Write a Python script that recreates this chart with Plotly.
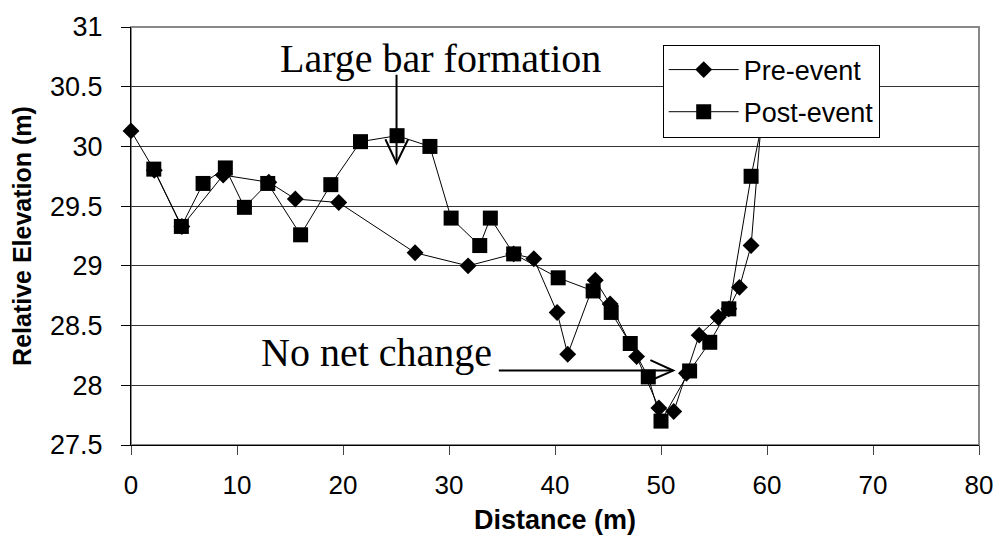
import plotly.graph_objects as go

# Pre-event survey (distance m, relative elevation m)
pre_x = [0.0, 2.2, 4.8, 8.7, 13.0, 15.5, 19.6, 26.8, 31.8, 36.1, 38.0, 40.2, 41.2,
         43.8, 45.2, 47.7, 49.8, 51.2, 52.4, 53.6, 55.4, 56.4, 57.4, 58.5, 59.4]
pre_y = [30.13, 29.80, 29.33, 29.76, 29.70, 29.56, 29.53, 29.11, 29.00, 29.10, 29.06, 28.61, 28.26,
         28.88, 28.68, 28.24, 27.81, 27.78, 28.10, 28.42, 28.57, 28.64, 28.82, 29.17, 30.14]

# Post-event survey
post_x = [2.15, 4.75, 6.8, 8.9, 10.7, 12.9, 16.0, 18.85, 21.65, 25.1, 28.2, 30.2, 32.9,
          33.9, 36.1, 40.3, 43.6, 45.3, 47.1, 48.8, 50.0, 52.7, 54.6, 56.4, 58.5, 59.4]
post_y = [29.81, 29.33, 29.69, 29.82, 29.49, 29.69, 29.26, 29.68, 30.04, 30.09, 30.00, 29.40, 29.17,
          29.40, 29.10, 28.90, 28.79, 28.61, 28.35, 28.07, 27.70, 28.12, 28.36, 28.64, 29.75, 30.14]

x_ticks = [0, 10, 20, 30, 40, 50, 60, 70, 80]
y_ticks = [27.5, 28, 28.5, 29, 29.5, 30, 30.5, 31]
y_tick_text = ["27.5", "28", "28.5", "29", "29.5", "30", "30.5", "31"]

SANS = "Liberation Sans, Arial, sans-serif"
SERIF = "Liberation Serif, Times New Roman, serif"

fig = go.Figure()
fig.add_trace(go.Scatter(
    x=pre_x, y=pre_y, mode="lines+markers", name="Pre-event", legendgroup="a",
    line=dict(color="black", width=1), cliponaxis=False,
    marker=dict(symbol="diamond", size=13, color="black"),
))
fig.add_trace(go.Scatter(
    x=post_x, y=post_y, mode="lines+markers", name="Post-event", legendgroup="b",
    line=dict(color="black", width=1), cliponaxis=False,
    marker=dict(symbol="square", size=15, color="black"),
))

# plot frame (grey top/right)
fig.add_shape(type="rect", xref="paper", yref="paper", x0=0, x1=1, y0=0, y1=1,
              line=dict(color="#888888", width=2), layer="below")

# "Large bar formation" arrow
fig.add_shape(type="line", x0=25.05, x1=25.05, y0=30.60, y1=29.86,
              line=dict(color="black", width=2))
fig.add_shape(type="path", path="M 24.0,30.06 L 25.05,29.86 L 26.15,30.06",
              line=dict(color="black", width=2))
# "No net change" arrow
fig.add_shape(type="line", x0=34.7, x1=51.15, y0=28.123, y1=28.123,
              line=dict(color="black", width=2))
fig.add_shape(type="path", path="M 49.0,28.21 L 51.15,28.123 L 49.0,28.04",
              line=dict(color="black", width=2))

fig.add_annotation(x=29.16, y=30.53, xref="x", yref="y", text="Large bar formation",
                   showarrow=False, xanchor="center", yanchor="bottom",
                   font=dict(family=SERIF, size=40, color="black"))
fig.add_annotation(x=34.2, y=28.07, xref="x", yref="y", text="No net change",
                   showarrow=False, xanchor="right", yanchor="bottom",
                   font=dict(family=SERIF, size=40, color="black"))

fig.update_layout(
    width=1005, height=551,
    margin=dict(l=131, r=18, t=25, b=106),
    paper_bgcolor="white", plot_bgcolor="white",
    font=dict(family=SANS, size=25, color="black"),
    showlegend=True,
    legend=dict(x=0.627, y=0.958, xanchor="left", yanchor="top",
                bgcolor="white", bordercolor="black", borderwidth=1,
                font=dict(family=SANS, size=27, color="black"),
                itemwidth=70,
                traceorder="grouped", tracegroupgap=4),
    xaxis=dict(range=[0, 80], tickvals=x_ticks, ticktext=[str(v) for v in x_ticks],
               showgrid=False, zeroline=False, showline=True, linecolor="black", linewidth=1,
               ticks="outside", ticklen=9, tickcolor="#444444",
               tickfont=dict(size=26), ticklabelstandoff=8,
               title=dict(text="<b>Distance (m)</b>", font=dict(family=SANS, size=27), standoff=10)),
    yaxis=dict(range=[27.5, 31], tickvals=y_ticks, ticktext=y_tick_text,
               showgrid=True, gridcolor="#333333", gridwidth=1, zeroline=False,
               showline=True, linecolor="black", linewidth=1,
               ticks="outside", ticklen=9, tickcolor="black",
               tickfont=dict(size=27), ticklabelstandoff=13,
               title=dict(text="<b>Relative Elevation (m)</b>", font=dict(family=SANS, size=25), standoff=11)),
)

fig.write_html("out.html")
